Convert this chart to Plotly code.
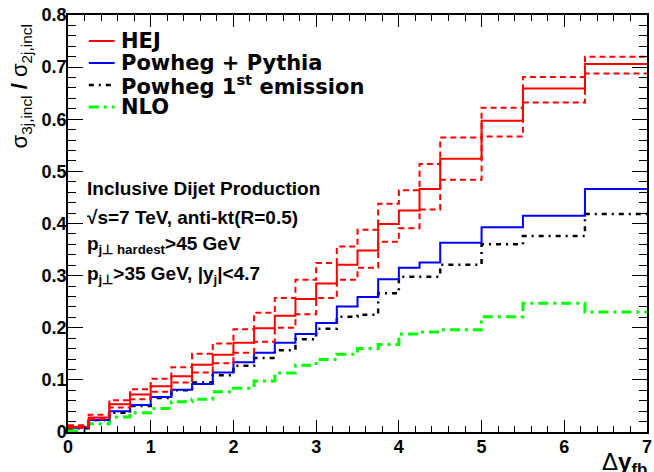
import plotly.graph_objects as go

# bin edges in Delta y_fb
edges = [0, 0.25, 0.5, 0.75, 1, 1.25, 1.5, 1.75, 2, 2.25, 2.5, 2.75, 3, 3.25,
         3.5, 3.75, 4, 4.25, 4.5, 5, 5.5, 6.25, 7]

hej = [0.010, 0.028, 0.053, 0.072, 0.088, 0.107, 0.129, 0.148, 0.171, 0.199, 0.223,
       0.255, 0.285, 0.321, 0.348, 0.399, 0.425, 0.466, 0.524, 0.597, 0.659, 0.706]
hej_up = [0.013, 0.033, 0.061, 0.082, 0.102, 0.124, 0.150, 0.170, 0.197, 0.229, 0.257,
          0.292, 0.324, 0.356, 0.388, 0.438, 0.464, 0.514, 0.565, 0.622, 0.681, 0.720]
hej_lo = [0.008, 0.025, 0.047, 0.063, 0.077, 0.095, 0.114, 0.132, 0.152, 0.173, 0.200,
          0.226, 0.257, 0.292, 0.315, 0.365, 0.391, 0.427, 0.484, 0.567, 0.632, 0.688]
powheg = [0.008, 0.023, 0.040, 0.052, 0.067, 0.081, 0.092, 0.114, 0.134, 0.152, 0.171,
          0.188, 0.209, 0.241, 0.259, 0.293, 0.315, 0.325, 0.363, 0.393, 0.415, 0.466]
first_em = [0.007, 0.023, 0.037, 0.050, 0.065, 0.080, 0.095, 0.109, 0.127, 0.142, 0.157,
            0.178, 0.198, 0.221, 0.225, 0.266, 0.298, 0.298, 0.321, 0.360, 0.376, 0.418]
nlo = [0.002, 0.016, 0.029, 0.037, 0.045, 0.058, 0.063, 0.077, 0.084, 0.098, 0.113,
       0.128, 0.139, 0.149, 0.160, 0.168, 0.188, 0.192, 0.196, 0.221, 0.247, 0.230]

legend_names = ["HEJ", "Powheg + Pythia", "Powheg 1<sup>st</sup> emission", "NLO"]
x_ticks = [0, 1, 2, 3, 4, 5, 6, 7]
y_ticks = [0, 0.1, 0.2, 0.3, 0.4, 0.5, 0.6, 0.7, 0.8]

RED, BLUE, BLACK, GREEN = "#ff0000", "#0000ff", "#000000", "#00ff00"
DASH_RED = "6px,4px"
DASH_BLK = "5px,5px,2px,5px"
DASH_GRN = "10px,5px,3px,5px"

FONT = "Liberation Sans, Arial, Helvetica, sans-serif"
WIDE = "DejaVu Sans, Liberation Sans, sans-serif"

fig = go.Figure()

def step(vals, color, width, dash, name):
    fig.add_trace(go.Scatter(
        x=edges, y=vals + [vals[-1]], mode="lines", line_shape="hv",
        line=dict(color=color, width=width, dash=dash), name=name,
        showlegend=False, hoverinfo="skip"))

step(nlo, GREEN, 3, DASH_GRN, "NLO")
step(first_em, BLACK, 2.5, DASH_BLK, "Powheg 1st emission")
step(powheg, BLUE, 2, "solid", "Powheg + Pythia")
step(hej_up, RED, 2, DASH_RED, "HEJ up")
step(hej_lo, RED, 2, DASH_RED, "HEJ down")
step(hej, RED, 2, "solid", "HEJ")

W, H = 654, 472
L, R, T, B = 68, 2, 15, 40
pw, ph = W - L - R, H - T - B

def px(xp):
    return (xp - L) / pw

def py(yp):
    return (H - B - yp) / ph

anns = []
shapes = []
# legend (manual, ROOT style)
leg_y = [41, 63, 85, 107]
leg_styles = [(RED, 2, "solid"), (BLUE, 2, "solid"), (BLACK, 2.5, DASH_BLK), (GREEN, 3, DASH_GRN)]
for name, yy, (c, w, d) in zip(legend_names, leg_y, leg_styles):
    shapes.append(dict(type="line", xref="paper", yref="paper",
                       x0=px(89), x1=px(115), y0=py(yy), y1=py(yy),
                       line=dict(color=c, width=w, dash=d)))
    anns.append(dict(text=name, xref="paper", yref="paper", x=px(119), y=py(yy),
                     xanchor="left", yanchor="middle", showarrow=False,
                     font=dict(family=WIDE, size=21, color="black", weight="bold")))

info = [
    ("Inclusive Dijet Production", 189),
    ("√s=7 TeV, anti-kt(R=0.5)", 217),
    ("p<sub>j⊥ hardest</sub>>45 GeV", 245),
    ("p<sub>j⊥</sub>>35 GeV, |y<sub>j</sub>|<4.7", 275),
]
for txt, yy in info:
    anns.append(dict(text=txt, xref="paper", yref="paper", x=px(85), y=py(yy),
                     xanchor="left", yanchor="middle", showarrow=False,
                     font=dict(family=FONT, size=19, color="black", weight="bold")))

# axis titles
anns.append(dict(text="σ<sub>3j,incl</sub> <b>/</b> σ<sub>2j,incl</sub>", xref="paper", yref="paper",
                 x=px(21), y=py(86), xanchor="center", yanchor="middle", textangle=-90,
                 showarrow=False, font=dict(family=FONT, size=22, color="black")))
anns.append(dict(text="Δ<b>y</b><sub><b>fb</b></sub>", xref="paper", yref="paper",
                 x=px(605), y=py(446), xanchor="left", yanchor="top",
                 showarrow=False, font=dict(family=FONT, size=24, color="black")))

axis_common = dict(showgrid=False, zeroline=False, showline=True, linecolor="black",
                   linewidth=1.5, mirror="ticks", ticks="inside", tickcolor="black",
                   tickwidth=1, ticklabeloverflow="allow",
                   tickfont=dict(family=FONT, size=18, color="black", weight="bold"))

fig.update_layout(
    width=W, height=H,
    margin=dict(l=L, r=R, t=T, b=B),
    paper_bgcolor="white", plot_bgcolor="white",
    showlegend=False,
    xaxis=dict(range=[0, 7], tickvals=x_ticks, ticklen=12, ticklabelstandoff=-2,
               minor=dict(dtick=0.2, ticklen=6, ticks="inside", tickcolor="black", tickwidth=1),
               **axis_common),
    yaxis=dict(range=[0, 0.8], tickvals=y_ticks, ticklen=15, ticklabelstandoff=-4,
               minor=dict(dtick=0.02, ticklen=8, ticks="inside", tickcolor="black", tickwidth=1),
               **axis_common),
    annotations=anns, shapes=shapes,
)

fig.write_html("out.html", config={"displayModeBar": False},
               post_script="document.body.style.margin='0';document.body.style.overflow='hidden';")
